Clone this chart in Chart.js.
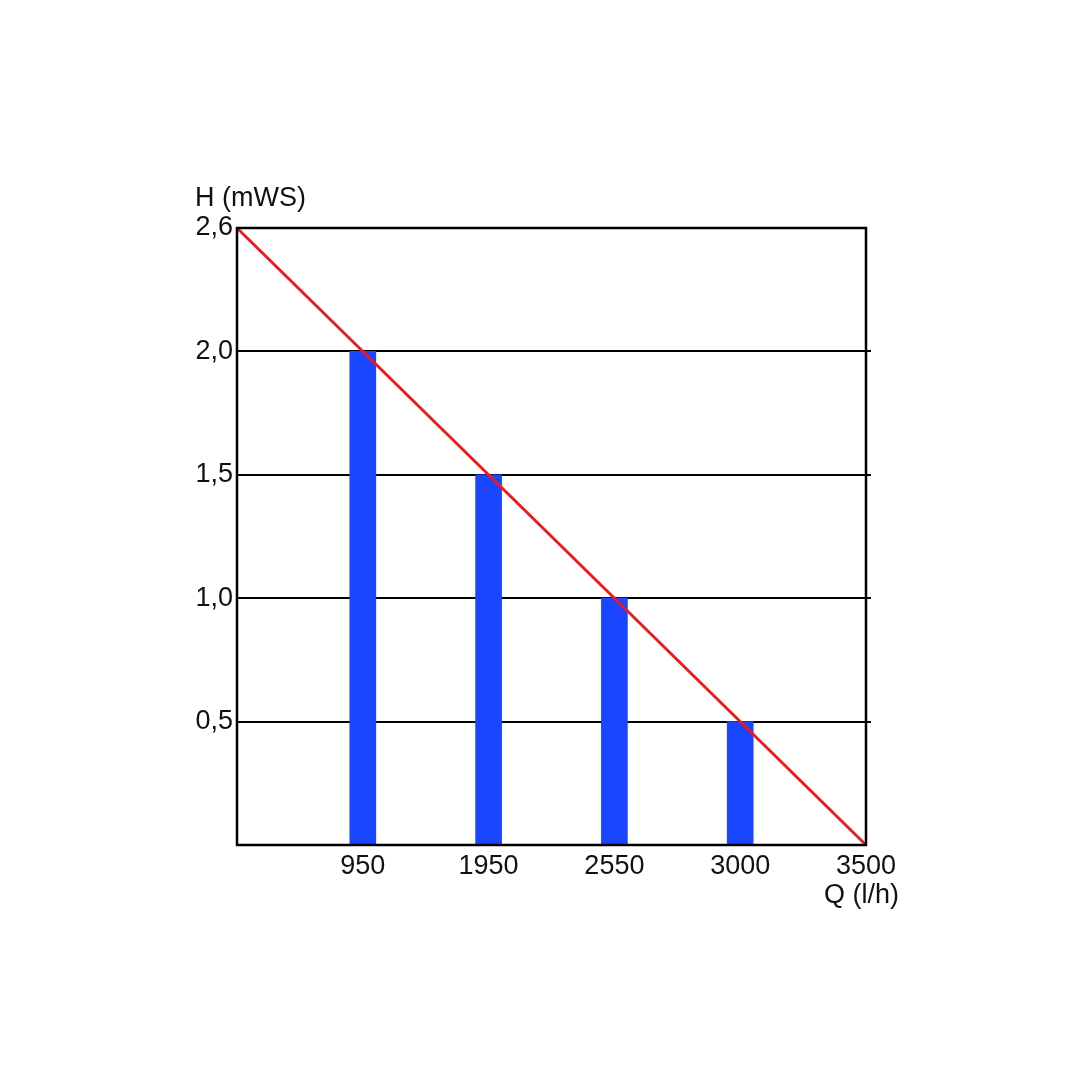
<!DOCTYPE html>
<html>
<head>
<meta charset="utf-8">
<script src="https://cdn.jsdelivr.net/npm/chart.js@4.4.1/dist/chart.umd.min.js"></script>
<style>
  html, body { margin: 0; padding: 0; background: #ffffff; }
  #wrap { width: 1092px; height: 1092px; }
</style>
</head>
<body>
<div id="wrap"><canvas id="c" width="1092" height="1092"></canvas></div>
<script>
// ---- data ----
const flowQ = [950, 1950, 2550, 3000];          // Q (l/h) of the bars
const headH = [2.0, 1.5, 1.0, 0.5];             // H (mWS) of the bars
const curveQ = [0, 3500];                        // pump curve end points
const curveH = [2.6, 0];
const qTickValues = [0, 950, 1950, 2550, 3000, 3500];
const qTickLabels = ['', '950', '1950', '2550', '3000', '3500'];
const hTickValues = [0, 0.5, 1.0, 1.5, 2.0, 2.6];
const hTickLabels = ['', '0,5', '1,0', '1,5', '2,0', '2,6'];
const xTitle = 'Q (l/h)';
const yTitle = 'H (mWS)';

// the original axes are drawn with equally spaced (non-linear) ticks:
// map a value onto its position between those ticks
function toPos(v, ticks) {
  for (let i = 0; i < ticks.length - 1; i++) {
    if (v >= ticks[i] && v <= ticks[i + 1]) {
      return i + (v - ticks[i]) / (ticks[i + 1] - ticks[i]);
    }
  }
  return v < ticks[0] ? 0 : ticks.length - 1;
}

const barData = flowQ.map((q, i) => ({ x: toPos(q, qTickValues), y: toPos(headH[i], hTickValues) }));
const lineData = curveQ.map((q, i) => ({ x: toPos(q, qTickValues), y: toPos(curveH[i], hTickValues) }));

const FONT = 'Liberation Sans, Arial, Helvetica, sans-serif';

const framePlugin = {
  id: 'frame',
  beforeDatasetsDraw(chart) {
    const { ctx, chartArea: a, scales } = chart;
    ctx.save();
    ctx.strokeStyle = '#000';
    ctx.lineWidth = 2;
    for (let i = 1; i < hTickValues.length - 1; i++) {
      const y = Math.round(scales.y.getPixelForValue(i));
      ctx.beginPath();
      ctx.moveTo(a.left, y);
      ctx.lineTo(a.right + 5, y);
      ctx.stroke();
    }
    ctx.restore();
  },
  afterDatasetsDraw(chart) {
    const { ctx, chartArea: a } = chart;
    ctx.save();
    ctx.strokeStyle = '#000';
    ctx.lineWidth = 2.5;
    ctx.strokeRect(a.left, a.top, a.right - a.left, a.bottom - a.top);
    ctx.restore();
  },
  afterDraw(chart) {
    const { ctx, chartArea: a } = chart;
    ctx.save();
    ctx.fillStyle = '#111';
    ctx.font = '27px ' + FONT;
    ctx.textAlign = 'left';
    ctx.textBaseline = 'alphabetic';
    ctx.fillText(yTitle, a.left - 42, a.top - 22);
    ctx.fillText(xTitle, a.right - 42, a.bottom + 58);
    ctx.restore();
  }
};

new Chart(document.getElementById('c'), {
  type: 'bar',
  data: {
    datasets: [
      {
        type: 'line',
        data: lineData,
        borderColor: '#f01818',
        borderWidth: 2.8,
        pointRadius: 0,
        fill: false,
        order: 0
      },
      {
        type: 'bar',
        data: barData,
        backgroundColor: '#1a46ff',
        borderWidth: 0,
        barThickness: 26,
        order: 1
      }
    ]
  },
  options: {
    responsive: false,
    animation: false,
    devicePixelRatio: 1,
    layout: { padding: { left: 192, top: 228, right: 226, bottom: 207 } },
    plugins: { legend: { display: false }, tooltip: { enabled: false } },
    scales: {
      x: {
        type: 'linear',
        min: 0,
        max: qTickValues.length - 1,
        offset: false,
        grid: { display: false, drawTicks: false },
        border: { display: false },
        afterBuildTicks(s) { s.ticks = qTickValues.map((v, i) => ({ value: i })); },
        afterFit(s) { s.height = 40; },
        ticks: {
          autoSkip: false,
          maxRotation: 0,
          padding: 5,
          color: '#111',
          font: { family: FONT, size: 27 },
          callback: (v) => qTickLabels[v]
        }
      },
      y: {
        type: 'linear',
        min: 0,
        max: hTickValues.length - 1,
        grid: { display: false, drawTicks: false },
        border: { display: false },
        afterBuildTicks(s) { s.ticks = hTickValues.map((v, i) => ({ value: i })); },
        afterFit(s) { s.width = 45; },
        ticks: {
          autoSkip: false,
          padding: 4,
          color: '#111',
          font: { family: FONT, size: 27 },
          callback: (v) => hTickLabels[v]
        }
      }
    }
  },
  plugins: [framePlugin]
});
</script>
</body>
</html>
